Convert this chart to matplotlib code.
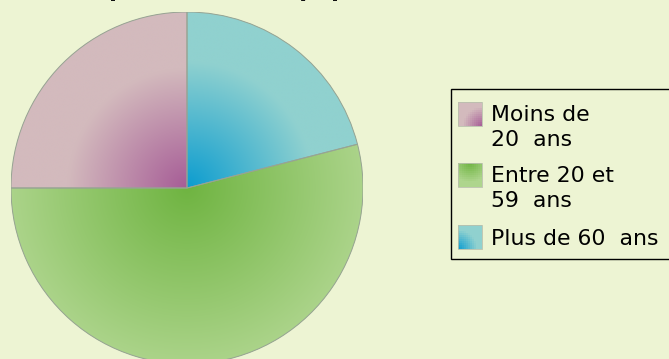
import numpy as np
import matplotlib
matplotlib.use('Agg')
import matplotlib.pyplot as plt
from matplotlib.patches import Rectangle, Wedge
from matplotlib.legend_handler import HandlerBase
from matplotlib.colors import to_rgb

title = 'Répartition de la population'
labels = ['Moins de\n20  ans', 'Entre 20 et\n59  ans', 'Plus de 60  ans']
shares = [25, 54, 21]

# Slice colours: saturated at the centre, washed out towards the rim.
inner_colors = ['#a65c96', '#6fb441', '#0b9cd0']
outer_colors = ['#d3babd', '#aed58d', '#90d1cf']
spread = [0.68, 1.05, 0.72]
# Where the dark spot sits inside each legend key (unit square coords).
key_centres = [(1.0, 0.0), (0.5, 1.0), (0.0, 0.0)]

background = '#edf4d3'
edge = '#97a493'
legend_size = 15.8
line_gap = 1.37


def blend(c0, c1, t):
    c0 = np.array(to_rgb(c0))
    c1 = np.array(to_rgb(c1))
    t = np.clip(t, 0, 1)[..., None]
    return c0 + (c1 - c0) * t


class LegendKey(object):
    def __init__(self, index):
        self.index = index


class GradientSquare(HandlerBase):
    """Legend key filled with a small radial gradient."""

    def create_artists(self, legend, orig_handle, xdescent, ydescent,
                       width, height, fontsize, trans):
        i = orig_handle.index
        size = width
        nlines = labels[i].count('\n') + 1
        x0 = -xdescent
        # keep the key level with the first line of a wrapped label
        y0 = -ydescent + (height - size) / 2 + (nlines - 1) * 0.63 * fontsize
        n = 12
        cell = size / n
        cx, cy = key_centres[i]
        artists = []
        for a in range(n):
            for b in range(n):
                u = (a + 0.5) / n
                v = (b + 0.5) / n
                t = np.hypot(u - cx, v - cy) / 0.8
                colour = blend(inner_colors[i], outer_colors[i], np.array(t))
                artists.append(Rectangle((x0 + a * cell, y0 + b * cell), cell * 1.02, cell * 1.02,
                                         facecolor=colour, edgecolor='none', transform=trans))
        artists.append(Rectangle((x0, y0), size, size, facecolor='none',
                                 edgecolor='#b9c0ad', linewidth=0.6, transform=trans))
        return artists


fig = plt.figure(figsize=(6.69, 3.59), dpi=100)
fig.patch.set_facecolor(background)

# Pie centred at (187, 188) px with a 176 px radius.
W, H = 669.0, 359.0
R = 176.0
ax = fig.add_axes([(187 - R) / W, (H - 188 - R) / H, 2 * R / W, 2 * R / H])
ax.set_facecolor('none')

wedges, _ = ax.pie(shares, startangle=90, counterclock=True, radius=1,
                   wedgeprops=dict(edgecolor='none', linewidth=0))
ax.set_xlim(-1, 1)
ax.set_ylim(-1, 1)
ax.set_axis_off()

xs = np.linspace(-1, 1, 600)
gx, gy = np.meshgrid(xs, xs)
rr = np.hypot(gx, gy)
for i, w in enumerate(wedges):
    w.set_facecolor(outer_colors[i])
    img = blend(inner_colors[i], outer_colors[i], rr / spread[i])
    im = ax.imshow(img, extent=[-1, 1, -1, 1], origin='lower', interpolation='bilinear',
                   zorder=w.get_zorder() + 0.1)
    im.set_clip_path(w)

# Outlines on top of the gradients.
for w in wedges:
    ax.add_patch(Wedge(w.center, w.r, w.theta1, w.theta2, facecolor='none',
                       edgecolor=edge, linewidth=0.7, zorder=5))

fig.text(76 / W, 1 + 4.4 / H, title, ha='left', va='baseline', fontsize=16.4,
         fontweight='bold', color='#111111')

# Legend frame, running off the right edge of the figure.
fig.patches.append(Rectangle((451 / W, 1 - 259 / H), 240 / W, 170 / H, transform=fig.transFigure,
                             facecolor=background, edgecolor='black', linewidth=1.0, zorder=1))

keys = [LegendKey(i) for i in range(len(labels))]
leg = fig.legend(keys, labels, handler_map={LegendKey: GradientSquare()},
                 loc='upper left', bbox_to_anchor=(458 / W, 1 - 104.5 / H), bbox_transform=fig.transFigure,
                 borderaxespad=0, borderpad=0, fontsize=legend_size, handlelength=1.1, handleheight=1.1,
                 handletextpad=0.41, labelspacing=0.69, frameon=False)
leg.set_zorder(2)
for t in leg.get_texts():
    t.set_linespacing(line_gap)

fig.savefig('out.png', dpi=100, facecolor=background)
